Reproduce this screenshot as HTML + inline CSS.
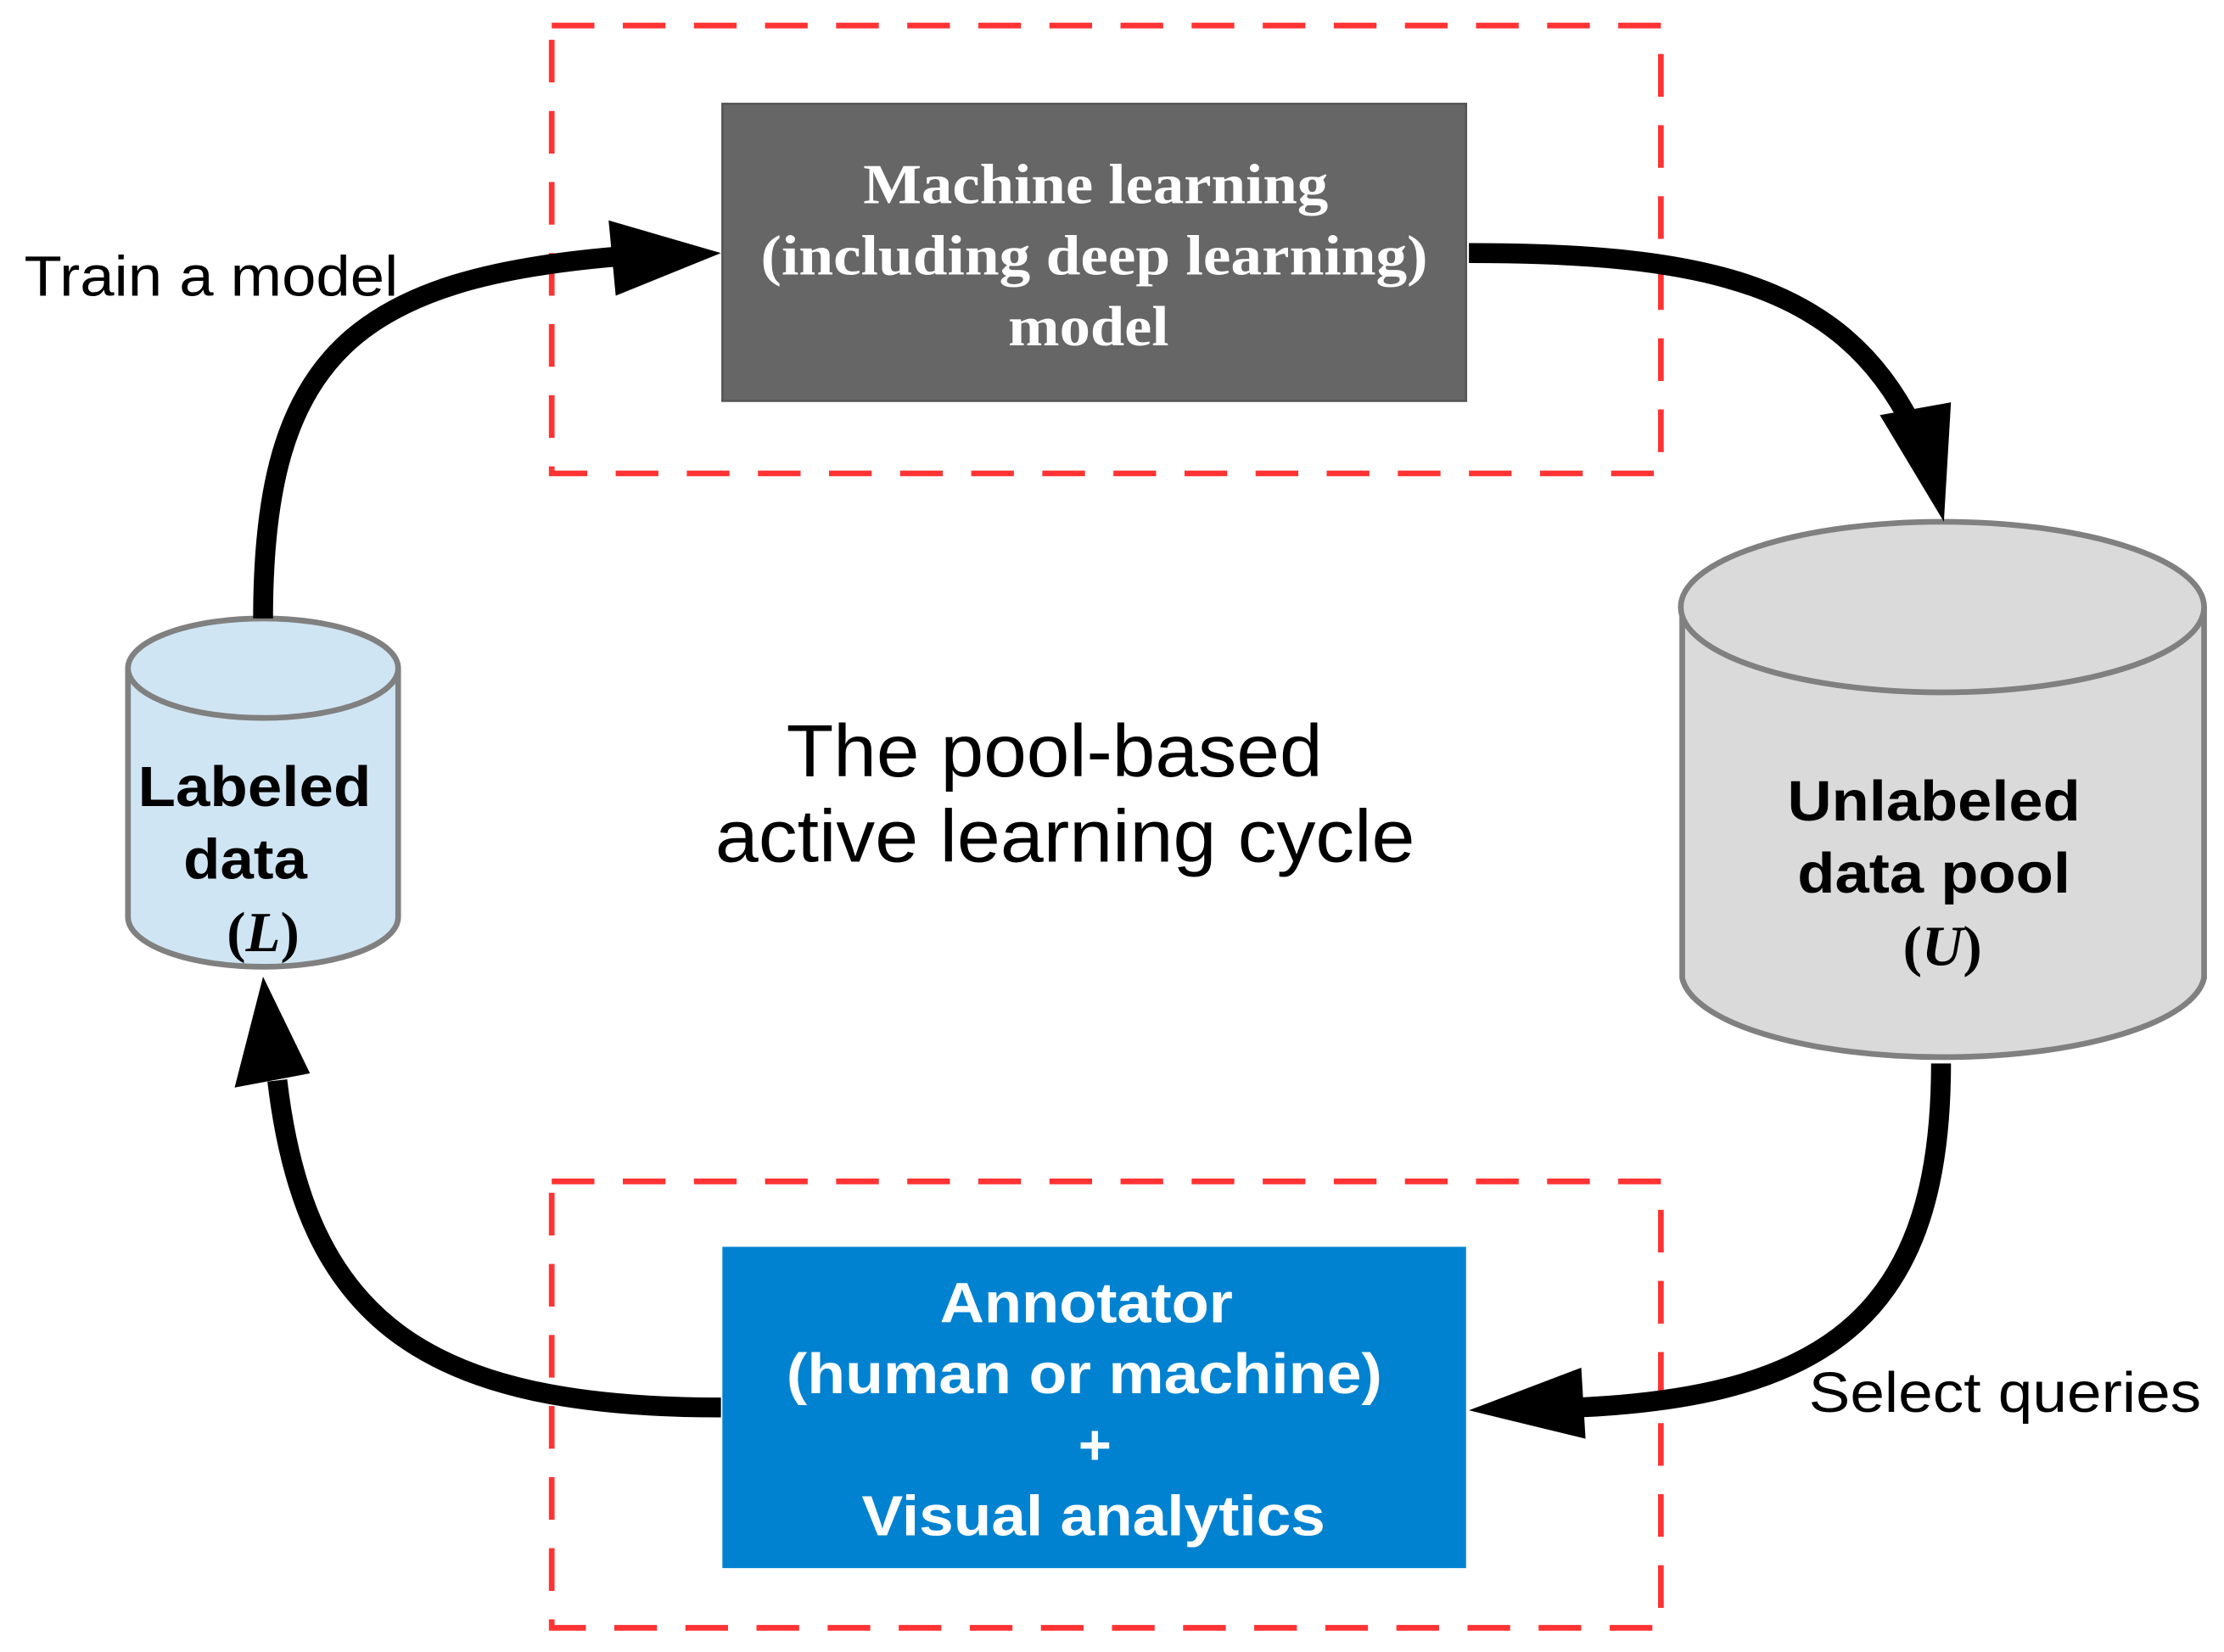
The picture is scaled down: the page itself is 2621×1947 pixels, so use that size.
<!DOCTYPE html>
<html><head><meta charset="utf-8"><style>html,body{margin:0;padding:0;background:#fff;overflow:hidden}svg{display:block}</style></head>
<body>
<svg width="2621" height="1947" viewBox="0 0 1564 1162" preserveAspectRatio="none" xmlns="http://www.w3.org/2000/svg">
<rect x="0" y="0" width="1564" height="1162" fill="#fff"/>
<g fill="none" stroke="#ff3333" stroke-width="4" stroke-dasharray="30,20">
<rect x="388" y="18" width="780" height="315"/>
<rect x="388" y="831" width="780" height="314"/>
</g>
<rect x="508" y="73" width="523" height="209" fill="#666" stroke="#555" stroke-width="1.5"/>
<g font-family="Liberation Serif, serif" font-weight="bold" font-size="40" fill="#fff" lengthAdjust="spacingAndGlyphs">
<text x="607" y="143" textLength="327" lengthAdjust="spacingAndGlyphs">Machine learning</text>
<text x="535" y="193" textLength="469" lengthAdjust="spacingAndGlyphs">(including deep learning)</text>
<text x="709" y="243" textLength="113" lengthAdjust="spacingAndGlyphs">model</text>
</g>
<rect x="508" y="877" width="523" height="226" fill="#0082d0"/>
<g font-family="Liberation Sans, sans-serif" font-weight="bold" font-size="40" fill="#fff">
<text x="661" y="930" textLength="206" lengthAdjust="spacingAndGlyphs">Annotator</text>
<text x="553" y="980" textLength="419" lengthAdjust="spacingAndGlyphs">(human or machine)</text>
<text x="770" y="1030" text-anchor="middle">+</text>
<text x="606" y="1080" textLength="326" lengthAdjust="spacingAndGlyphs">Visual analytics</text>
</g>
<path d="M90,470 L90,645 A95,35 0 0 0 280,645 L280,470" fill="#d0e5f3" stroke="#808080" stroke-width="4"/>
<ellipse cx="185" cy="470" rx="95" ry="35" fill="#d0e5f3" stroke="#808080" stroke-width="4"/>
<g font-family="Liberation Sans, sans-serif" font-weight="bold" font-size="40" fill="#000">
<text x="97" y="567" textLength="164" lengthAdjust="spacingAndGlyphs">Labeled</text>
<text x="129" y="618" textLength="87" lengthAdjust="spacingAndGlyphs">data</text>
</g>
<text x="185" y="669" font-family="Liberation Serif, serif" font-weight="bold" font-size="40" text-anchor="middle">(<tspan font-style="italic">L</tspan>)</text>
<path d="M1183,427 L1183,688 A184,60 0 0 0 1550,688 L1550,427" fill="#dadada" stroke="#808080" stroke-width="4"/>
<ellipse cx="1366" cy="427" rx="184" ry="60" fill="#dadada" stroke="#808080" stroke-width="4"/>
<g font-family="Liberation Sans, sans-serif" font-weight="bold" font-size="40" fill="#000">
<text x="1257" y="577" textLength="206" lengthAdjust="spacingAndGlyphs">Unlabeled</text>
<text x="1264" y="628" textLength="192" lengthAdjust="spacingAndGlyphs">data pool</text>
</g>
<text x="1366" y="679" font-family="Liberation Serif, serif" font-weight="bold" font-size="40" text-anchor="middle">(<tspan font-style="italic">U</tspan>)</text>
<g fill="none" stroke="#000" stroke-width="14">
<path d="M185,435 C185,250 250,195 440,180"/>
<path d="M1033,178 C1200,178 1295,200 1345,300"/>
<path d="M1365,748 C1365,920 1290,982 1110,990"/>
<path d="M507,990 C300,990 215,930 195,760"/>
</g>
<g fill="#000">
<polygon points="507,178 428,155 433,208"/>
<polygon points="1367,367 1322,292 1372,283"/>
<polygon points="1033,992 1112,962 1115,1012"/>
<polygon points="185,687 165,765 218,755"/>
</g>
<g font-family="Liberation Sans, sans-serif" font-size="40" fill="#000">
<text x="17" y="208" textLength="263" lengthAdjust="spacingAndGlyphs">Train a model</text>
<text x="1272" y="993" textLength="276" lengthAdjust="spacingAndGlyphs">Select queries</text>
</g>
<g font-family="Liberation Sans, sans-serif" font-size="52" fill="#000">
<text x="553" y="546" textLength="377" lengthAdjust="spacingAndGlyphs">The pool-based</text>
<text x="503" y="606" textLength="492" lengthAdjust="spacingAndGlyphs">active learning cycle</text>
</g>
</svg>
</body></html>
